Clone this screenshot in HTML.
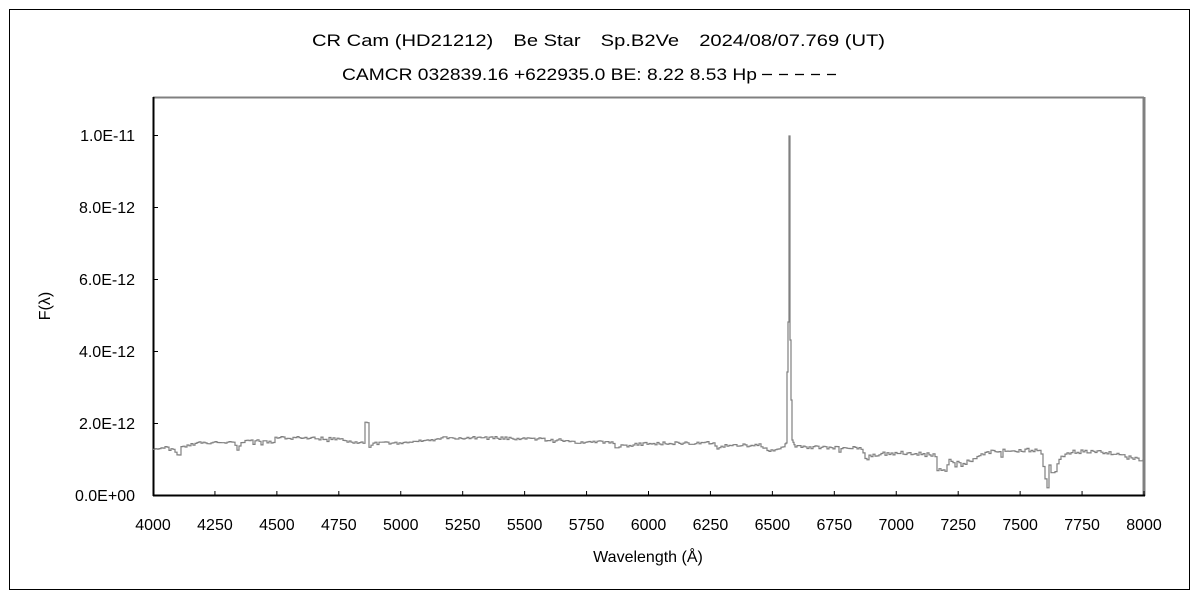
<!DOCTYPE html>
<html><head><meta charset="utf-8"><style>
body{margin:0;background:#fff;}
svg{display:block;font-family:"Liberation Sans","Noto Sans CJK JP",sans-serif;}
</style></head><body>
<svg id="s" width="1200" height="600" viewBox="0 0 1200 600">
<rect x="9.5" y="9.5" width="1180" height="580" fill="none" stroke="#000" stroke-width="1"/>
<text x="312" y="46" font-size="17" textLength="573" lengthAdjust="spacingAndGlyphs">CR Cam (HD21212)　Be Star　Sp.B2Ve　2024/08/07.769 (UT)</text>
<text x="342" y="80" font-size="17" textLength="415" lengthAdjust="spacingAndGlyphs">CAMCR 032839.16 +622935.0 BE: 8.22 8.53 Hp</text>
<g stroke="#000" stroke-width="1.3"><line x1="762" y1="74.5" x2="772" y2="74.5"/><line x1="779" y1="74.5" x2="788" y2="74.5"/><line x1="795" y1="74.5" x2="804" y2="74.5"/><line x1="811" y1="74.5" x2="820" y2="74.5"/><line x1="827" y1="74.5" x2="836" y2="74.5"/></g>
<line x1="153" y1="97.5" x2="1144" y2="97.5" stroke="#808080" stroke-width="2"/>
<line x1="1144" y1="97" x2="1144" y2="496" stroke="#808080" stroke-width="3"/>
<line x1="153.5" y1="97" x2="153.5" y2="496" stroke="#000" stroke-width="2"/>
<line x1="153" y1="495.5" x2="1145" y2="495.5" stroke="#000" stroke-width="2"/>
<g id="ticks" stroke="#000" stroke-width="1"></g>
<g id="lab" font-size="16" fill="#000"></g>
<text x="648" y="562" font-size="16" text-anchor="middle">Wavelength (Å)</text>
<text transform="translate(50,306) rotate(-90)" font-size="16" text-anchor="middle">F(λ)</text>
<polyline id="sp" fill="none" stroke="#808080" stroke-width="1.2" points=""/>
</svg>
<script>
var NS="http://www.w3.org/2000/svg";
var t=document.getElementById("ticks"),l=document.getElementById("lab");
function el(n,a,p,txt){var e=document.createElementNS(NS,n);for(var k in a)e.setAttribute(k,a[k]);if(txt)e.textContent=txt;p.appendChild(e);}
for(var i=0;i<=16;i++){var x=153+i*991/16;el("line",{x1:x,y1:495,x2:x,y2:491},t);el("text",{x:x,y:530,"text-anchor":"middle"},l,String(4000+250*i));}
var ys=["0.0E+00","2.0E-12","4.0E-12","6.0E-12","8.0E-12","1.0E-11"];
for(var j=0;j<6;j++){var y=495-j*72;el("line",{x1:153,y1:y+.5,x2:158,y2:y+.5},t);el("text",{x:135,y:y+6,"text-anchor":"end"},l,ys[j]);}
var P=[[153,450],[160,447],[170,448],[176,452],[178,460],[180,447],[200,443],[230,442],[235,444],[237,450],[240,442],[270,440],[272,446],[275,438],[300,438],[340,439],[350,442],[364,442],[365,422],[367,422],[368,447],[372,443],[400,443],[430,440],[440,438],[500,438],[560,440],[570,442],[612,442],[615,448],[622,446],[640,444],[680,443],[712,443],[716,446],[718,452],[720,446],[760,445],[765,448],[770,451],[780,448],[786,443],[787,372],[788,322],[789,136],[789.9,136],[790,340],[791,400],[792,440],[795,447],[860,448],[864,452],[866,462],[868,455],[900,453],[935,455],[937,469],[945,470],[950,459],[960,465],[975,458],[990,452],[1020,450],[1040,450],[1044,470],[1046,488],[1048,490],[1049,465],[1052,474],[1055,470],[1060,457],[1070,452],[1100,452],[1120,455],[1130,458],[1144,460]];
var s=1;function r(){s=(s*9301+49297)%233280;return s/233280;}
var pts=[],k=0,x=153;
while(x<=1144){var spike=(x>=784&&x<=796);var st=spike?1:2;
while(k<P.length-2&&P[k+1][0]<=x)k++;var a=P[k],b=P[k+1];var f=(x-a[0])/(b[0]-a[0]);var y=a[1]+(b[1]-a[1])*Math.max(0,Math.min(1,f));
var n=spike?0:(r()-0.5)*(x>860?4:3);y+=n;
if(!spike&&r()<0.03)y+=4;
pts.push(x+","+y.toFixed(1));pts.push((x+st)+","+y.toFixed(1));x+=st;}
document.getElementById("sp").setAttribute("points",pts.join(" "));
</script>
</body></html>
